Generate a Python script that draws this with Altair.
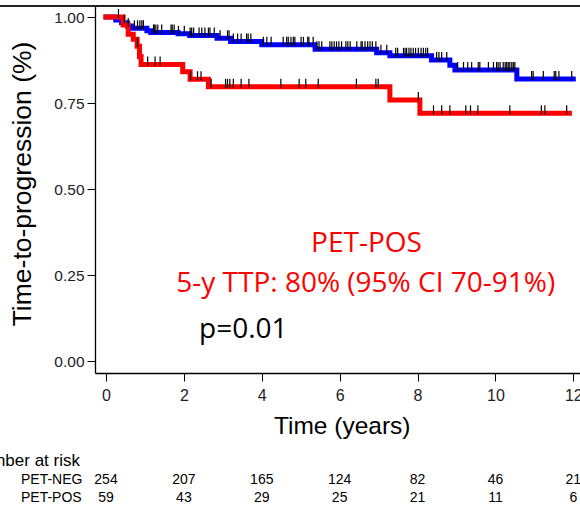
import altair as alt
import pandas as pd

# ---- KM step data ----
neg_times = [0, 0.25, 0.40, 0.55, 0.65, 1.05, 1.15, 1.85, 2.15, 2.85, 3.20, 4.00, 5.37, 6.95, 7.29, 8.36, 8.83, 8.96, 10.55, 12.0]
neg_surv = [1.0, 0.991, 0.983, 0.974, 0.967, 0.960, 0.955, 0.951, 0.946, 0.938, 0.929, 0.919, 0.906, 0.896, 0.887, 0.875, 0.860, 0.846, 0.820, 0.820]

pos_times = [0, 0.44, 0.57, 0.70, 0.80, 0.86, 0.90, 1.97, 2.16, 2.63, 7.29, 8.06, 11.9]
pos_surv = [1.0, 0.977, 0.950, 0.935, 0.915, 0.885, 0.862, 0.841, 0.819, 0.797, 0.759, 0.720, 0.720]

neg_censor = [0.47, 0.57, 0.73, 0.81, 0.87, 0.92, 0.96, 1.22, 1.24, 1.28, 1.33, 1.43, 1.67, 1.70, 1.75,
              1.86, 2.01, 2.16, 2.20, 2.25, 2.39, 2.46, 2.54, 2.63, 2.67, 2.78, 2.93, 3.12, 3.16, 3.27,
              3.38, 3.47, 3.61, 3.65, 3.72, 4.04, 4.13, 4.24, 4.55, 4.64, 4.68, 4.75, 4.81, 4.85, 5.01,
              5.07, 5.18, 5.21, 5.32, 5.41, 5.47, 5.54, 5.75, 5.80, 5.86, 5.92, 5.98, 6.05, 6.16, 6.21,
              6.27, 6.44, 6.55, 6.58, 6.65, 6.72, 6.78, 6.84, 6.93, 7.06, 7.21, 7.44, 7.49, 7.64, 7.68,
              7.72, 7.78, 7.83, 7.89, 7.95, 8.02, 8.09, 8.15, 8.21, 8.26, 8.49, 8.55, 8.62, 8.75, 9.03,
              9.18, 9.29, 9.39, 9.56, 9.60, 9.82, 9.95, 10.03, 10.07, 10.12, 10.20, 10.25, 10.29, 10.33,
              10.37, 10.42, 10.46, 10.50, 10.93, 10.97, 11.23, 11.51, 11.55, 11.63, 11.96]
pos_censor = [0.32, 0.81, 1.07, 1.26, 1.39, 2.17, 2.35, 2.44, 2.70, 3.07, 3.12, 3.18, 3.27, 3.47, 3.67,
              4.49, 4.96, 5.13, 5.45, 6.43, 6.93, 6.99, 8.02, 8.41, 8.62, 8.83, 9.24, 9.36, 9.55, 10.37,
              11.18, 11.27, 11.83]

# ---- risk table ----
risk_times = [0, 2, 4, 6, 8, 10, 12]
risk_neg = [254, 207, 165, 124, 82, 46, 21]
risk_pos = [59, 43, 29, 25, 21, 11, 6]

y_ticks = [0, 0.25, 0.5, 0.75, 1.0]
x_ticks = [0, 2, 4, 6, 8, 10, 12]


def surv_at(times, surv, t):
    s = surv[0]
    for tt, ss in zip(times, surv):
        if tt <= t:
            s = ss
    return s


lines = pd.DataFrame(
    [{"t": t, "s": s, "grp": "PET-NEG"} for t, s in zip(neg_times, neg_surv)]
    + [{"t": t, "s": s, "grp": "PET-POS"} for t, s in zip(pos_times, pos_surv)]
)
cens = pd.DataFrame(
    [{"t": t, "s": surv_at(neg_times, neg_surv, t)} for t in neg_censor]
    + [{"t": t, "s": surv_at(pos_times, pos_surv, t)} for t in pos_censor]
)
risk = pd.DataFrame({"t": risk_times, "neg": risk_neg, "pos": risk_pos})

xs = alt.Scale(domain=[-0.2825, 12.172], nice=False, zero=False)
ys = alt.Scale(domain=[-0.03488, 1.03198], nice=False, zero=False)

AX = "Liberation Sans"

x_axis = alt.Axis(
    values=x_ticks, title="Time (years)", grid=False, tickSize=8, labelPadding=6,
    labelFontSize=16, labelFont=AX, labelColor="#222", domainColor="black", tickColor="black",
    domainWidth=1.3, tickWidth=1, titleFont=AX, titleFontSize=24.5, titleFontWeight="normal",
    titleColor="black", titleX=246.7, titleY=60, titleBaseline="alphabetic", titleAlign="center")
y_axis = alt.Axis(
    values=y_ticks, format=".2f", title="Time-to-progression (%)", grid=False, tickSize=8,
    labelPadding=3, labelFontSize=15.5, labelFont=AX, labelColor="#222", domainColor="black",
    tickColor="black", domainWidth=1.3, tickWidth=1, titleFont=AX, titleFontSize=26.5,
    titleFontWeight="normal", titleColor="black", titleX=-73, titleY=177.5, titleAngle=-90,
    titleAlign="center", titleBaseline="middle")

color_scale = alt.Scale(domain=["PET-NEG", "PET-POS"], range=["#0000ff", "#ff0000"])

blue_line = alt.Chart(lines).transform_filter(alt.datum.grp == "PET-NEG").mark_line(
    interpolate="step-after", strokeWidth=5, strokeCap="square"
).encode(
    x=alt.X("t:Q", scale=xs, axis=x_axis),
    y=alt.Y("s:Q", scale=ys, axis=y_axis),
    color=alt.Color("grp:N", scale=color_scale, legend=None),
)

red_line = alt.Chart(lines).transform_filter(alt.datum.grp == "PET-POS").mark_line(
    interpolate="step-after", strokeWidth=5, strokeCap="square"
).encode(
    x=alt.X("t:Q", scale=xs),
    y=alt.Y("s:Q", scale=ys),
    color=alt.Color("grp:N", scale=color_scale, legend=None),
)

ticks = alt.Chart(cens).mark_tick(
    orient="vertical", size=9, thickness=1.2, color="black", yOffset=-3.5, opacity=1
).encode(x=alt.X("t:Q", scale=xs), y=alt.Y("s:Q", scale=ys))

top_rule = alt.Chart(pd.DataFrame({"a": [0]})).mark_rule(color="#222", strokeWidth=2).encode(
    x=alt.value(-95), x2=alt.value(485), y=alt.value(0)
)

ann = pd.DataFrame({
    "t": [6.69, 6.67, 2.39],
    "s": [0.317, 0.200, 0.067],
    "txt": ["PET-POS", "5-y TTP: 80% (95% CI 70-91%)", "p=0.01"],
})
ann_red = alt.Chart(ann.iloc[:2]).mark_text(
    font="Open Sans", fontSize=28, color="#ff0000", align="center", baseline="alphabetic"
).encode(x=alt.X("t:Q", scale=xs), y=alt.Y("s:Q", scale=ys), text="txt:N")
ann_p = alt.Chart(ann.iloc[2:]).mark_text(
    font="Open Sans", fontSize=28, color="black", align="left", baseline="alphabetic"
).encode(x=alt.X("t:Q", scale=xs), y=alt.Y("s:Q", scale=ys), text="txt:N")

risk_neg_txt = alt.Chart(risk).mark_text(
    font=AX, fontSize=14, color="black", align="center", baseline="alphabetic"
).encode(x=alt.X("t:Q", scale=xs), y=alt.value(478), text="neg:Q")
risk_pos_txt = alt.Chart(risk).mark_text(
    font=AX, fontSize=14, color="black", align="center", baseline="alphabetic"
).encode(x=alt.X("t:Q", scale=xs), y=alt.value(496), text="pos:Q")

risk_lab_neg = alt.Chart(pd.DataFrame({"lab": ["PET-NEG"]})).mark_text(
    font=AX, fontSize=14, color="black", align="left", baseline="alphabetic"
).encode(x=alt.value(-74), y=alt.value(478), text="lab:N")
risk_lab_pos = alt.Chart(pd.DataFrame({"lab": ["PET-POS"]})).mark_text(
    font=AX, fontSize=14, color="black", align="left", baseline="alphabetic"
).encode(x=alt.value(-74), y=alt.value(496), text="lab:N")

risk_head = alt.Chart(pd.DataFrame({"lab": ["Number at risk"]})).mark_text(
    font=AX, fontSize=17, color="black", align="right", baseline="alphabetic"
).encode(x=alt.value(-15), y=alt.value(459.7), text="lab:N")

chart = alt.layer(
    blue_line, red_line, ticks, top_rule, ann_red, ann_p,
    risk_neg_txt, risk_pos_txt, risk_lab_neg, risk_lab_pos, risk_head
).properties(
    width=485, height=367,
    padding={"left": 95, "top": 6, "right": 0, "bottom": 146},
    autosize=alt.AutoSizeParams(type="none"),
    background="white",
).configure_view(stroke=None)

chart.save("out.html", embed_options={"renderer": "svg", "actions": False})
